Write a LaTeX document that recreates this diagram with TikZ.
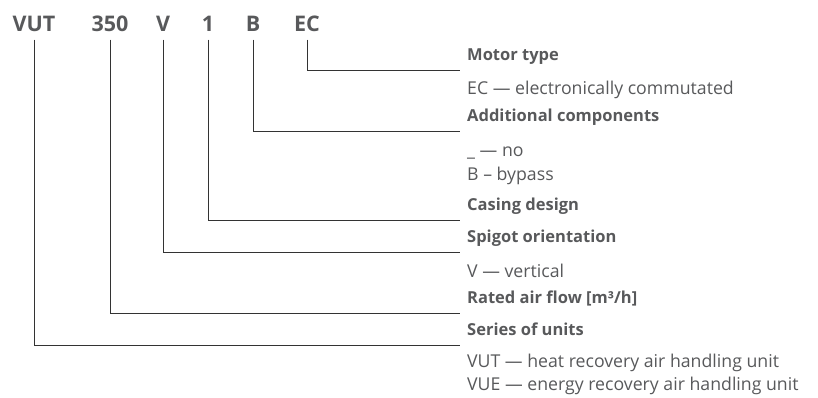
\documentclass[tikz,border=0pt]{standalone}
\usepackage{fontspec}
\setmainfont{Open Sans}
\usepackage{xcolor}
\definecolor{txtgray}{HTML}{58595B}
\definecolor{linegray}{HTML}{333333}

\begin{document}
\begin{tikzpicture}[x=1pt,y=-1pt,
  code/.style={font=\bfseries\fontsize{21.5}{24}\selectfont, text=txtgray, inner xsep=0pt, inner ysep=8pt, text height=15pt, text depth=0pt},
  hdr/.style={anchor=south west, font=\bfseries\fontsize{16.5}{18}\selectfont, text=txtgray, inner xsep=7pt, inner ysep=0pt, text depth=9pt},
  desc/.style={anchor=base west, font=\fontsize{17.7}{20}\selectfont, text=txtgray, inner xsep=7pt},
  lead/.style={draw=linegray, line width=1pt}]
\useasboundingbox (0,0) rectangle (818,397);

% Designation code
\node[code] (vut) at (34,24) {VUT};
\node[code] (flow) at (110,24) {350};
\node[code] (orient) at (163,24) {V};
\node[code] (casing) at (208,24) {1};
\node[code] (extra) at (253,24) {B};
\node[code] (motor) at (307,24) {EC};

% Headings
\node[hdr] (motorhdr) at (460,70) {Motor type};
\node[hdr] (extrahdr) at (460,131) {Additional components};
\node[hdr] (casinghdr) at (460,220) {Casing design};
\node[hdr] (orienthdr) at (460,252) {Spigot orientation};
\node[hdr] (flowhdr) at (460,313) {Rated air flow [m³/h]};
\node[hdr] (vuthdr) at (460,345) {Series of units};

% Descriptions
\node[desc] (motorec) at (460,94) {EC --- electronically commutated};
\node[desc] (extrano) at (460,156) {\_ --- no};
\node[desc] (extrab) at (460,180) {B -- bypass};
\node[desc] (orientv) at (460,277) {V --- vertical};
\node[desc] (vutvut) at (460,367) {VUT --- heat recovery air handling unit};
\node[desc] (vutvue) at (460,390) {VUE --- energy recovery air handling unit};

% Leader lines
\draw[lead] (motor.south) |- (motorhdr.south west);
\draw[lead] (extra.south) |- (extrahdr.south west);
\draw[lead] (casing.south) |- (casinghdr.south west);
\draw[lead] (orient.south) |- (orienthdr.south west);
\draw[lead] (flow.south) |- (flowhdr.south west);
\draw[lead] (vut.south) |- (vuthdr.south west);
\end{tikzpicture}
\end{document}
